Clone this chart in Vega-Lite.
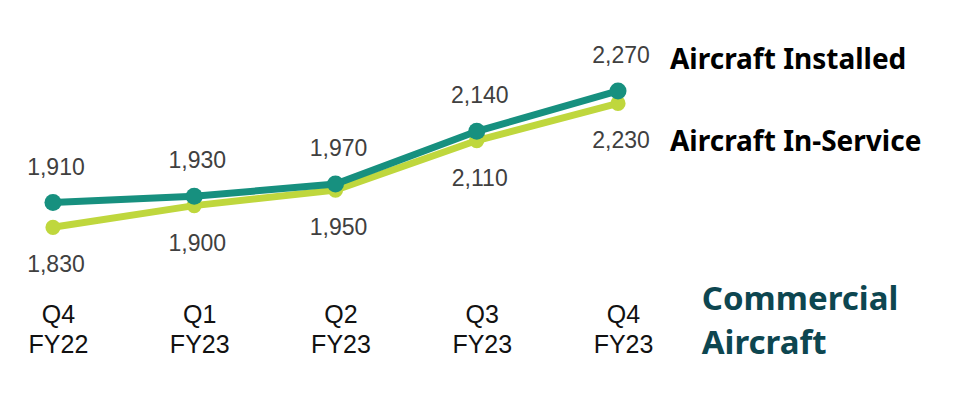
{
  "$schema": "https://vega.github.io/schema/vega-lite/v6.json",
  "width": 960,
  "height": 406,
  "padding": 0,
  "autosize": {"type": "none"},
  "background": "white",
  "config": {"view": {"stroke": null}},
  "datasets": {
    "series": [
      {"idx": 0, "quarter": "Q4 FY22", "series": "Aircraft In-Service", "value": 1830},
      {"idx": 1, "quarter": "Q1 FY23", "series": "Aircraft In-Service", "value": 1900},
      {"idx": 2, "quarter": "Q2 FY23", "series": "Aircraft In-Service", "value": 1950},
      {"idx": 3, "quarter": "Q3 FY23", "series": "Aircraft In-Service", "value": 2110},
      {"idx": 4, "quarter": "Q4 FY23", "series": "Aircraft In-Service", "value": 2230},
      {"idx": 0, "quarter": "Q4 FY22", "series": "Aircraft Installed", "value": 1910},
      {"idx": 1, "quarter": "Q1 FY23", "series": "Aircraft Installed", "value": 1930},
      {"idx": 2, "quarter": "Q2 FY23", "series": "Aircraft Installed", "value": 1970},
      {"idx": 3, "quarter": "Q3 FY23", "series": "Aircraft Installed", "value": 2140},
      {"idx": 4, "quarter": "Q4 FY23", "series": "Aircraft Installed", "value": 2270}
    ],
    "seriesNames": [
      {"idx": 4.368, "value": 2367, "text": "Aircraft Installed"},
      {"idx": 4.368, "value": 2103, "text": "Aircraft In-Service"}
    ],
    "segment": [
      {"idx": 4.593, "value": 1562, "text": ["Commercial", "Aircraft"]}
    ]
  },
  "layer": [
    {
      "data": {"name": "series"},
      "transform": [{"filter": "datum.series === 'Aircraft In-Service'"}],
      "layer": [
        {"mark": {"type": "line", "strokeWidth": 7, "color": "#BFD73D"}, "encoding": {}},
        {"mark": {"type": "point", "filled": true, "opacity": 1, "size": 230, "color": "#BFD73D"}, "encoding": {}},
        {"mark": {"type": "text", "fontSize": 23, "font": "Liberation Sans", "color": "#404040", "dy": 38, "dx": 3, "baseline": "middle", "align": "center"},
         "encoding": {"text": {"field": "value", "type": "quantitative", "format": ","}}}
      ]
    },
    {
      "data": {"name": "series"},
      "transform": [{"filter": "datum.series === 'Aircraft Installed'"}],
      "layer": [
        {"mark": {"type": "line", "strokeWidth": 7, "color": "#17907F"}, "encoding": {}},
        {"mark": {"type": "point", "filled": true, "opacity": 1, "size": 290, "color": "#17907F"}, "encoding": {}},
        {"mark": {"type": "text", "fontSize": 23, "font": "Liberation Sans", "color": "#404040", "dy": -35, "dx": 3, "baseline": "middle", "align": "center"},
         "encoding": {"text": {"field": "value", "type": "quantitative", "format": ","}}}
      ]
    },
    {
      "data": {"name": "seriesNames"},
      "mark": {"type": "text", "font": "Noto Sans", "fontWeight": "bold", "fontSize": 28, "color": "#000000", "align": "left", "baseline": "middle"},
      "encoding": {"text": {"field": "text"}}
    },
    {
      "data": {"name": "segment"},
      "mark": {"type": "text", "font": "Noto Sans", "fontWeight": "bold", "fontSize": 33, "letterSpacing": 0.6, "color": "#0D4650", "align": "left", "baseline": "alphabetic", "lineHeight": 44},
      "encoding": {"text": {"field": "text"}}
    }
  ],
  "encoding": {
    "x": {
      "field": "idx",
      "type": "quantitative",
      "scale": {"domain": [-0.375, 6.421], "nice": false, "zero": false},
      "axis": {
        "values": [0, 1, 2, 3, 4],
        "labelExpr": "split(['Q4 FY22','Q1 FY23','Q2 FY23','Q3 FY23','Q4 FY23'][datum.value], ' ')",
        "domain": false,
        "ticks": false,
        "grid": false,
        "title": null,
        "labelFont": "Liberation Sans",
        "labelFontSize": 25,
        "labelColor": "#111111",
        "labelLineHeight": 30,
        "labelBaseline": "top",
        "labelPadding": 0,
        "labelOffset": 5,
        "labelFlush": false,
        "labelOverlap": false,
        "offset": -104
      }
    },
    "y": {
      "field": "value",
      "type": "quantitative",
      "scale": {"domain": [1253.2, 2563.7], "nice": false, "zero": false},
      "axis": null
    }
  }
}
